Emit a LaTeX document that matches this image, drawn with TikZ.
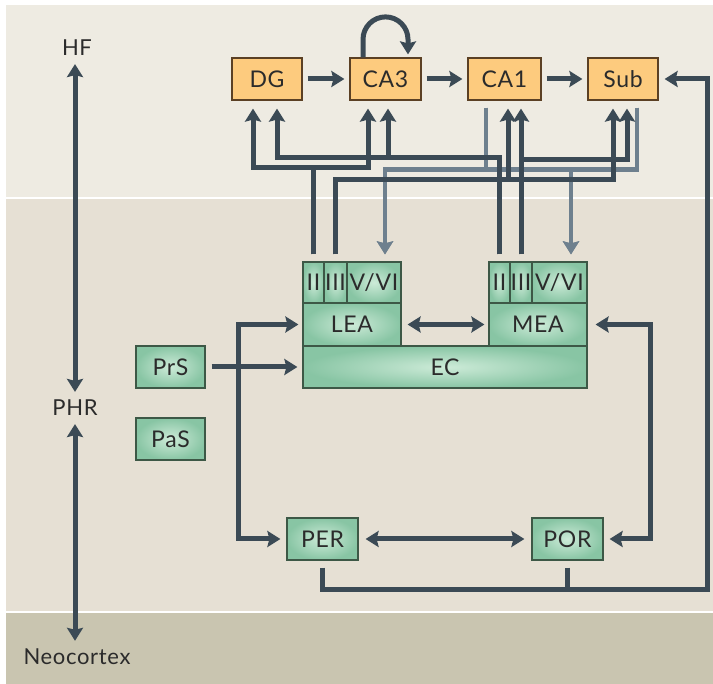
\documentclass[tikz,border=0pt]{standalone}
\usepackage{fontspec}
\setmainfont{Lato}[LetterSpace=3]
\usetikzlibrary{arrows.meta}

\definecolor{wirec}{HTML}{3B4A55}
\definecolor{wireg}{HTML}{6E808E}
\definecolor{hffill}{HTML}{FDCB7E}
\definecolor{hfdraw}{HTML}{5B4024}
\definecolor{gin}{HTML}{CDEBD8}
\definecolor{gout}{HTML}{88C5A4}
\definecolor{gdraw}{HTML}{3D5846}
\definecolor{bgtop}{HTML}{EEEBE2}
\definecolor{bgmid}{HTML}{E6E0D4}
\definecolor{bgbot}{HTML}{C9C5B0}
\definecolor{txt}{HTML}{2B2B2B}

\begin{document}
\begin{tikzpicture}[x=1pt,y=-1pt,
  hfbox/.style={draw=hfdraw,line width=1.2pt,fill=hffill,minimum width=70,minimum height=42,inner sep=0,text=txt,font=\fontsize{23}{26}\selectfont},
  phrbox/.style={draw=gdraw,line width=1.2pt,shade,shading=radial,inner color=gin,outer color=gout,minimum height=42,inner sep=0,text=txt,font=\fontsize{23}{26}\selectfont},
  region/.style={inner sep=1pt,text=txt,font=\fontsize{22}{25}\selectfont},
  wire/.style={draw=wirec,line width=5pt,shorten <=7pt,shorten >=7pt,>={Stealth[length=13pt,width=16pt,inset=2pt]}},
  gwire/.style={wire,draw=wireg,line width=4.5pt}]
  \useasboundingbox (0,0) rectangle (713,684);
  \fill[white] (0,0) rectangle (713,684);
  \fill[bgtop] (6,5) rectangle (713,198);
  \fill[bgmid] (6,198) rectangle (713,612);
  \fill[bgbot] (6,612) rectangle (713,684);
  \draw[white,line width=1.5pt] (6,198) -- (713,198) (6,612) -- (713,612);

  \node[hfbox] (dg) at (267,79) {DG};
  \node[hfbox,minimum width=71] (ca3) at (385.5,79) {CA3};
  \node[hfbox,minimum width=73] (ca1) at (504.5,79) {CA1};
  \node[hfbox] (sub) at (623,79) {Sub};

  \node[phrbox,minimum width=69] (prs) at (170.5,367) {PrS};
  \node[phrbox,minimum width=69] (pas) at (170.5,439) {PaS};
  \node[phrbox,minimum width=284] (ec) at (445,367) {EC};
  \node[phrbox,minimum width=98,minimum height=43] (lea) at (352,324.5) {LEA};
  \node[phrbox,minimum width=98,minimum height=43] (mea) at (538,324.5) {MEA};
  \node[phrbox,minimum width=21,minimum height=41] (lea2) at (313.5,282.5) {II};
  \node[phrbox,minimum width=23,minimum height=41] (lea3) at (335.5,282.5) {III};
  \node[phrbox,minimum width=54,minimum height=41] (lea56) at (374,282.5) {V/VI};
  \node[phrbox,minimum width=21,minimum height=41] (mea2) at (499.5,282.5) {II};
  \node[phrbox,minimum width=22,minimum height=41] (mea3) at (521,282.5) {III};
  \node[phrbox,minimum width=55,minimum height=41] (mea56) at (559.5,282.5) {V/VI};
  \node[phrbox,minimum width=71] (per) at (322.5,539) {PER};
  \node[phrbox,minimum width=71] (por) at (567.5,539) {POR};

  \node[region] (hf) at (77,48) {HF};
  \node[region] (phr) at (75,408) {PHR};
  \node[region] (neo) at (77,657) {Neocortex};

  \draw[wire,<->] (hf.south -| phr) -- (phr);
  \draw[wire,<->] (phr) -- (phr |- neo.north);

  \draw[wire,->,shorten <=5pt,shorten >=5pt] (dg) -- (ca3);
  \draw[wire,->,shorten <=5pt,shorten >=5pt] (ca3) -- (ca1);
  \draw[wire,->,shorten <=5pt,shorten >=5pt] (ca1) -- (sub);
  \draw[wire,->,shorten <=0pt,shorten >=3pt] ([xshift=-22.5pt]ca3.north) -- ++(0,-18) arc[start angle=180,end angle=0,radius=22.5pt] -- ([xshift=22.5pt]ca3.north);

  \draw[gwire,->] ([xshift=-18.5pt]ca1.south) -- ++(0,69) -| ([xshift=11pt]lea56.north);
  \draw[gwire,->] ([xshift=-18.5pt]ca1.south) -- ++(0,69) -| ([xshift=11.5pt]mea56.north);
  \draw[gwire,->] ([xshift=14pt]sub.south) -- ++(0,69) -| ([xshift=11pt]lea56.north);
  \draw[gwire,->] ([xshift=14pt]sub.south) -- ++(0,69) -| ([xshift=11.5pt]mea56.north);

  \draw[wire,->,shorten >=8pt] (lea2.north) -- ++(0,-94) -| ([xshift=-14pt]dg.south);
  \draw[wire,->,shorten >=8pt] (lea2.north) -- ++(0,-94) -| ([xshift=-17.5pt]ca3.south);
  \draw[wire,->,shorten >=8pt] (lea3.north) -- ++(0,-82) -| ([xshift=3.5pt]ca1.south);
  \draw[wire,->,shorten >=8pt] (lea3.north) -- ++(0,-82) -| ([xshift=-10pt]sub.south);
  \draw[wire,->,shorten >=8pt] (mea2.north) -- ++(0,-104) -| ([xshift=10pt]dg.south);
  \draw[wire,->,shorten >=8pt] (mea2.north) -- ++(0,-104) -| ([xshift=2.5pt]ca3.south);
  \draw[wire,->,shorten >=8pt] (mea3.north) -- (mea3.north |- ca1.south);
  \draw[wire,->,shorten >=8pt] (mea3.north) -- ++(0,-102) -| ([xshift=4pt]sub.south);

  \coordinate (lrail) at (238,430);
  \coordinate (rrail) at (650,430);
  \coordinate (rail) at (707,590);
  \draw[wire,<->,shorten <=4pt,shorten >=6pt] (lea) -| (lrail) |- (per);
  \draw[wire,<->,shorten <=8pt,shorten >=6pt] (mea) -| (rrail) |- (por);
  \draw[wire,->,shorten <=6pt,shorten >=5pt] (prs) -- (ec);
  \draw[wire,<->,shorten <=6pt,shorten >=4pt] (lea) -- (mea);
  \draw[wire,<->] (per) -- (por);
  \draw[wire,->,shorten >=6pt] (per.south) |- (rail) |- (sub.east);
  \draw[wire,shorten >=0pt] (por.south) -- (por.south |- rail);
\end{tikzpicture}
\end{document}
